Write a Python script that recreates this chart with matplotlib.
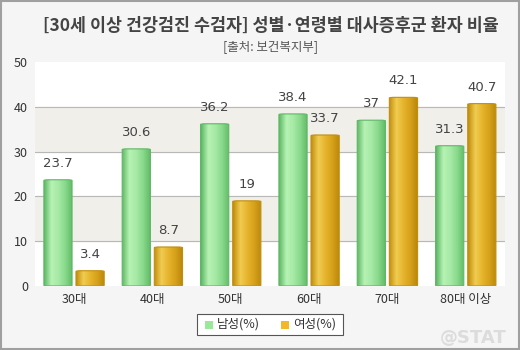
import numpy as np
import matplotlib.pyplot as plt
from matplotlib.colors import LinearSegmentedColormap
from matplotlib.patches import FancyBboxPatch

plt.rcParams['font.family'] = ['Noto Sans CJK KR', 'DejaVu Sans']

ages = ["30대", "40대", "50대", "60대", "70대", "80대 이상"]
male = [23.7, 30.6, 36.2, 38.4, 37, 31.3]
female = [3.4, 8.7, 19, 33.7, 42.1, 40.7]
series_names = ["남성(%)", "여성(%)"]

title = "[30세 이상 건강검진 수검자] 성별·연령별 대사증후군 환자 비율"
source = "[출처: 보건복지부]"

green_cm = LinearSegmentedColormap.from_list(
    "g", ["#5fb865", "#b6f2b4", "#a6e9a6", "#86d88a", "#5fb865"])
gold_cm = LinearSegmentedColormap.from_list(
    "y", ["#c28e0c", "#f0cc52", "#e6b42c", "#d6a01a", "#b8860b"])

fig = plt.figure(figsize=(5.2, 3.5), dpi=100, facecolor="#f5f5f5")
fig.patches.append(plt.Rectangle((0.002, 0.003), 0.996, 0.994, transform=fig.transFigure,
                                 fill=False, edgecolor="#a0a0a0", linewidth=1.5))
ax = fig.add_axes([0.067, 0.183, 0.904, 0.64])
ax.set_facecolor("white")

# alternate shaded bands
for lo in (10, 30):
    ax.axhspan(lo, lo + 10, color="#f0efea", zorder=0)
for y in (10, 20, 30, 40):
    ax.axhline(y, color="#b8b8b8", linewidth=0.8, zorder=1)

x = np.arange(len(ages))
w = 0.36
gap = 0.025


def gradient_bars(bars, cmap):
    grad = np.linspace(0, 1, 64).reshape(1, -1)
    for b in bars:
        x0, h, bw = b.get_x(), b.get_height(), b.get_width()
        b.set_visible(False)
        patch = FancyBboxPatch((x0, 0), bw, h, boxstyle="round,pad=0,rounding_size=0.06",
                               mutation_aspect=2.6,
                               facecolor="none", edgecolor=cmap(0.0), linewidth=0.8, zorder=4)
        ax.add_patch(patch)
        im = ax.imshow(grad, cmap=cmap, aspect="auto", extent=(x0, x0 + bw, 0, h),
                       zorder=3, interpolation="bilinear")
        im.set_clip_path(patch)


mb = ax.bar(x - w / 2 - gap, male, w)
fb = ax.bar(x + w / 2 + gap, female, w)
gradient_bars(mb, green_cm)
gradient_bars(fb, gold_cm)

for xs, vals in ((x - w / 2 - gap, male), (x + w / 2 + gap, female)):
    for xi, v in zip(xs, vals):
        ax.text(xi, v + 2.2, f"{v:g}", ha="center", va="bottom", fontsize=9.5,
                color="#444444", family="DejaVu Sans")

ax.set_xlim(-0.5, len(ages) - 0.5)
ax.set_ylim(0, 50)
ax.set_yticks(range(0, 51, 10))
ax.set_xticks(x)
ax.set_xticklabels(ages)
ax.tick_params(axis="y", length=0, labelsize=9, labelcolor="#333333", pad=5)
ax.tick_params(axis="x", length=0, labelsize=9, labelcolor="#333333", pad=5)
for s in ax.spines.values():
    s.set_visible(False)

fig.text(0.52, 0.925, title, ha="center", va="center", fontsize=12.5,
         fontweight="bold", color="#444444")
fig.text(0.52, 0.868, source, ha="center", va="center", fontsize=9, color="#555555")

# legend box
lx, ly, lw, lh = 197 / 520, 1 - 335 / 350, 146 / 520, 21 / 350
fig.patches.append(plt.Rectangle((lx, ly), lw, lh, transform=fig.transFigure,
                                 facecolor="white", edgecolor="#555555", linewidth=0.8))
for i, (name, col) in enumerate(zip(series_names, ["#9be89b", "#f2b82a"])):
    sx = lx + (8 + i * 76) / 520
    fig.patches.append(plt.Rectangle((sx, ly + 6 / 350), 8 / 520, 8 / 350,
                                     transform=fig.transFigure, facecolor=col, edgecolor="none"))
    fig.text(sx + 12 / 520, ly + lh / 2, name, ha="left", va="center", fontsize=9, color="#333333")

fig.text(0.975, 0.035, "@STAT", ha="right", va="center", fontsize=13, fontweight="bold",
         color="#dcdcdc", family="DejaVu Sans")

fig.savefig("out.png", dpi=100, facecolor=fig.get_facecolor())
